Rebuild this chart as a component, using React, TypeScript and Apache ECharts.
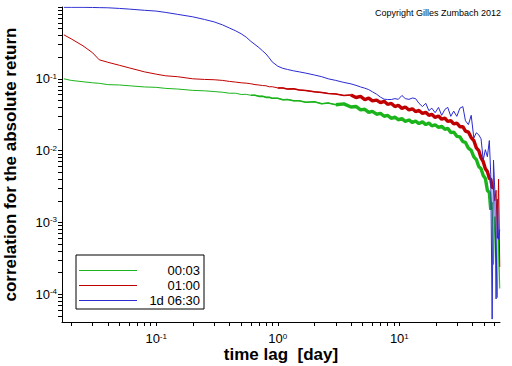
import React, { useEffect, useRef } from "react";
import * as echarts from "echarts";

// time lag [day]
const lags = [
  0.0174, 0.02, 0.025, 0.03, 0.034, 0.04, 0.05, 0.06, 0.08, 0.1,
  0.12, 0.15, 0.2, 0.25, 0.3, 0.35, 0.4, 0.45, 0.5, 0.55,
  0.6, 0.65, 0.7, 0.75, 0.8, 0.85, 0.9, 1.0, 1.1, 1.2,
  1.35, 1.5, 1.7, 2.0, 2.3, 2.6, 3.0, 3.5, 4.0, 4.4,
  4.8, 5.2, 5.6, 6.0, 6.5, 7.0, 7.5, 8.0, 8.6, 9.2,
  9.8, 10.5, 11.2, 12, 12.8, 13.6, 14.5, 15.5, 16.5, 17.5,
  18.5, 19.7, 21, 22.3, 23.7, 25, 26.5, 28, 29.7, 31.5,
  33.3, 35, 37, 39, 41, 43, 45, 47, 49, 51,
  53, 55, 56.5, 58, 59.5, 61, 62.5, 64, 65.5, 67,
];

const corr0003 = [
  0.100, 0.095, 0.091, 0.088, 0.0865, 0.083, 0.082, 0.080, 0.077, 0.076,
  0.0735, 0.072, 0.069, 0.068, 0.0664, 0.065, 0.063, 0.063, 0.0605, 0.0608,
  0.0590, 0.0590, 0.0570, 0.0572, 0.0552, 0.0553, 0.0536, 0.0536, 0.0510, 0.0516,
  0.0494, 0.0494, 0.0472, 0.0478, 0.0450, 0.0460, 0.0436, 0.0447, 0.0404, 0.0412,
  0.0369, 0.0376, 0.0340, 0.0353, 0.0321, 0.0330, 0.0301, 0.0309, 0.0282, 0.0292,
  0.0269, 0.0278, 0.0256, 0.0267, 0.0246, 0.0258, 0.0238, 0.0251, 0.0230, 0.0243,
  0.0221, 0.0229, 0.0211, 0.0218, 0.0198, 0.0204, 0.0178, 0.0181, 0.0158, 0.0155,
  0.0133, 0.0130, 0.0108, 0.0101, 0.0082, 0.0075, 0.0060, 0.0056, 0.0045, 0.0041,
  0.0028, 0.0026, 0.0015, 0.0019, 0.00026, 0.0012, 0.00042, 0.00009, 0.0006, 0.00012,
];

const corr0100 = [
  0.41, 0.36, 0.288, 0.23, 0.184, 0.170, 0.154, 0.142, 0.125, 0.116,
  0.110, 0.107, 0.100, 0.098, 0.097, 0.095, 0.092, 0.090, 0.088, 0.087,
  0.0853, 0.083, 0.082, 0.0805, 0.0800, 0.0774, 0.0776, 0.0747, 0.0746, 0.0719,
  0.0726, 0.0700, 0.0686, 0.0658, 0.0646, 0.0624, 0.0616, 0.0585, 0.0597, 0.0549,
  0.0568, 0.0513, 0.0537, 0.0492, 0.0506, 0.0465, 0.0486, 0.0441, 0.0454, 0.0410,
  0.0428, 0.0387, 0.0405, 0.0368, 0.0382, 0.0350, 0.0362, 0.0329, 0.0341, 0.0310,
  0.0320, 0.0290, 0.0303, 0.0274, 0.0283, 0.0255, 0.0262, 0.0236, 0.0241, 0.0215,
  0.0216, 0.0187, 0.0181, 0.0152, 0.0138, 0.0109, 0.0100, 0.0079, 0.0070, 0.0056,
  0.0051, 0.0041, 0.0040, 0.0031, 0.0030, 0.0020, 0.0028, 0.0006, 0.0040, 0.00024,
];

const corr1d0630 = [
  0.99, 0.99, 0.99, 0.985, 0.98, 0.975, 0.955, 0.935, 0.90, 0.877,
  0.84, 0.79, 0.73, 0.67, 0.62, 0.565, 0.51, 0.466, 0.424, 0.38,
  0.333, 0.30, 0.272, 0.245, 0.222, 0.196, 0.172, 0.150, 0.14, 0.135,
  0.129, 0.125, 0.12, 0.113, 0.107, 0.10, 0.095, 0.089, 0.085, 0.081,
  0.077, 0.074, 0.0707, 0.066, 0.061, 0.0555, 0.052, 0.0515, 0.0515, 0.053,
  0.0517, 0.0586, 0.053, 0.0517, 0.054, 0.053, 0.0456, 0.041, 0.0456, 0.036,
  0.039, 0.0337, 0.040, 0.031, 0.0375, 0.040, 0.030, 0.0355, 0.030, 0.039,
  0.041, 0.026, 0.023, 0.031, 0.015, 0.0177, 0.0166, 0.0146, 0.0074, 0.0103,
  0.0082, 0.0138, 0.0046, 0.000045, 0.0074, 0.0028, 0.000086, 0.0021, 0.00058, 0.00079,
];

const seriesNames = ["00:03", "01:00", "1d 06:30"];
const seriesColors = ["#1cb41c", "#c00000", "#2b2bd0"];
// noisy stretches of the curves: [series index, first lag, last lag]
const noisyRanges: [number, number, number][] = [
  [0, 0.6, 3.0],
  [0, 3.0, 56.5],
  [1, 1.0, 4.0],
  [1, 4.0, 59.5],
];
const noisyWidths = [1.6, 3.4, 1.5, 3.4];
const mantissas = [1, 2, 3, 4, 5, 6, 7, 8, 9];
const xLabelValues = [0.1, 1, 10];
const yLabelValues = [0.0001, 0.001, 0.01, 0.1];
const xMin = 0.0168;
const xMax = 67.3;
const yMin = 0.000041;
const yMax = 1;

const TICK_FONT = "'Liberation Sans', Arial, sans-serif";
const FONT = "'Liberation Sans', Arial, sans-serif";

function logTicks(lo: number, hi: number, decades: number[]) {
  const out: number[] = [];
  decades.forEach((d) => {
    mantissas.forEach((m) => {
      const v = parseFloat((m * Math.pow(10, d)).toPrecision(6));
      if (v >= lo && v <= hi) out.push(v);
    });
  });
  return out;
}

function powLabel(v: number) {
  const e = Math.round(Math.log10(v));
  return "{b|10}{s|" + e + "}";
}

const labelRich = {
  b: { fontSize: 13, fontFamily: TICK_FONT, color: "#000", verticalAlign: "bottom", lineHeight: 13 },
  s: { fontSize: 8, fontFamily: TICK_FONT, color: "#000", verticalAlign: "top", lineHeight: 9 },
};

export default function App() {
  const ref = useRef<HTMLDivElement>(null);
  useEffect(() => {
    if (!ref.current) return;
    const chart = echarts.init(ref.current, null, { renderer: "svg" });
    const mk = (ys: number[]) => lags.map((x, i) => [x, ys[i]]);
    const all = [corr0003, corr0100, corr1d0630];
    const mainSeries = all.map((ys, i) => ({
      name: seriesNames[i],
      type: "line",
      data: mk(ys),
      symbol: "none",
      showSymbol: false,
      lineStyle: { color: seriesColors[i], width: 1 },
      itemStyle: { color: seriesColors[i] },
      clip: true,
      z: 2 + i,
    }));
    const bandSeries = noisyRanges.map(([si, a, b], k) => ({
      name: seriesNames[si] + " noise " + k,
      type: "line",
      data: mk(all[si]).slice(lags.indexOf(a), lags.indexOf(b) + 1),
      symbol: "none",
      showSymbol: false,
      silent: true,
      lineStyle: { color: seriesColors[si], width: noisyWidths[k] },
      clip: true,
      z: 2 + si,
    }));
    chart.setOption({
      animation: false,
      backgroundColor: "#fff",
      grid: {
        left: 62,
        right: 12,
        top: 7,
        bottom: 44,
        containLabel: false,
        outerBoundsMode: "none",
      },
      graphic: [
        {
          type: "text",
          right: 11,
          top: 8,
          style: {
            text: "Copyright Gilles Zumbach 2012",
            font: "9px " + FONT,
            fill: "#000",
          },
        },
      ],
      legend: {
        data: seriesNames,
        orient: "vertical",
        left: 76,
        top: 255,
        padding: [9, 4, 2, 3],
        itemGap: 2,
        itemWidth: 58,
        itemHeight: 1,
        icon: "rect",
        borderColor: "#000",
        borderWidth: 1,
        borderRadius: 0,
        backgroundColor: "#fff",
        selectedMode: false,
        formatter: (name: string) => "{a|" + name + "}",
        textStyle: {
          rich: {
            a: { width: 58, align: "right", fontSize: 13, lineHeight: 14, fontFamily: FONT, color: "#000" },
          },
        },
      },
      xAxis: {
        type: "log",
        logBase: 10,
        min: xMin,
        max: xMax,
        name: "time lag  [day]",
        nameLocation: "middle",
        nameGap: 24,
        nameMoveOverlap: false,
        nameTextStyle: { fontSize: 17, fontWeight: "bold", fontFamily: FONT, color: "#000" },
        axisLine: { show: true, onZero: false, lineStyle: { color: "#000", width: 1 } },
        axisTick: {
          show: true,
          length: 4,
          lineStyle: { color: "#000" },
          customValues: logTicks(xMin, xMax, [-2, -1, 0, 1]),
        },
        axisLabel: {
          margin: 10,
          customValues: xLabelValues,
          formatter: powLabel,
          rich: labelRich,
        },
        splitLine: { show: false },
        minorTick: { show: false },
      },
      yAxis: {
        type: "log",
        logBase: 10,
        min: yMin,
        max: yMax,
        name: "correlation for the absolute return",
        nameLocation: "middle",
        nameGap: 43,
        nameMoveOverlap: false,
        nameRotate: 90,
        nameTextStyle: { fontSize: 17, fontWeight: "bold", fontFamily: FONT, color: "#000" },
        axisLine: { show: true, onZero: false, lineStyle: { color: "#000", width: 1 } },
        axisTick: {
          show: true,
          length: 4,
          lineStyle: { color: "#000" },
          customValues: logTicks(yMin, yMax, [-5, -4, -3, -2, -1, 0]),
        },
        axisLabel: {
          margin: 5,
          customValues: yLabelValues,
          formatter: powLabel,
          rich: labelRich,
        },
        splitLine: { show: false },
      },
      series: [...bandSeries, ...mainSeries],
    });
    return () => chart.dispose();
  }, []);
  return (
    <div
      ref={ref}
      style={{ position: "fixed", left: 0, top: 0, width: 512, height: 366, background: "#fff" }}
    />
  );
}
